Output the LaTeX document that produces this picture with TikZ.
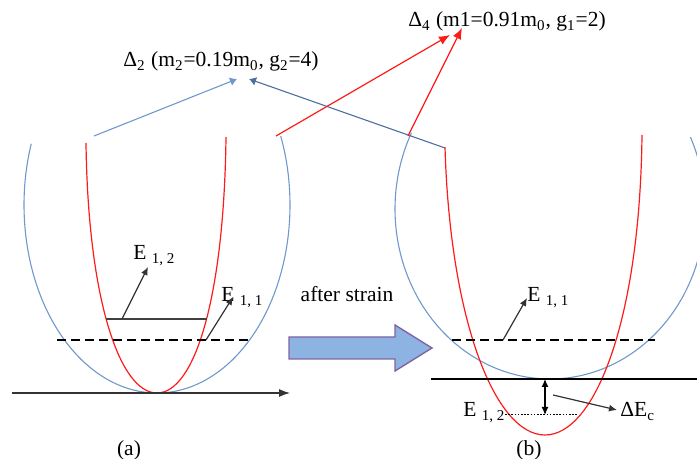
\documentclass[tikz,border=0pt]{standalone}
\usepackage{fontspec}
\setmainfont{Liberation Serif}
\usetikzlibrary{positioning, arrows.meta, calc}
\definecolor{myblue}{HTML}{6F98CC}
\definecolor{mydarkblue}{HTML}{4D6E9E}
\definecolor{myred}{HTML}{FF1A1A}
\definecolor{mypurple}{HTML}{8064A2}
\definecolor{myfill}{HTML}{8DB3E2}

\begin{document}
\begin{tikzpicture}[
    x=0.5pt, y=-0.5pt,
    font=\fontsize{10.75}{13}\selectfont,
    lbl/.style={inner sep=0pt, anchor=base west},
    title/.style={inner sep=0pt, anchor=base},
    band/.style={myblue, line width=0.55pt},
    heavy/.style={myred, line width=0.6pt},
    level/.style={black!75, line width=0.6pt},
    dashlevel/.style={black, line width=0.55pt, dash pattern=on 4.5pt off 2.5pt},
    dotlevel/.style={black, line width=0.5pt, dash pattern=on 0.8pt off 0.8pt},
    tick/.style={-{Latex[length=4pt, width=3.5pt]}, black!80, line width=0.6pt},
    dtick/.style={{Latex[length=4pt, width=3.5pt]}-{Latex[length=4pt, width=3.5pt]}, black, line width=0.6pt},
    axis/.style={-{Latex[length=5.5pt, width=4pt]}, black!80, line width=0.6pt},
    arrBlue/.style={-{Latex[length=3.5pt, width=4.5pt]}, myblue, line width=0.55pt},
    arrDark/.style={-{Latex[length=3.5pt, width=4.5pt]}, mydarkblue, line width=0.55pt},
    arrRed/.style={-{Latex[length=5.5pt, width=4.5pt]}, myred, line width=0.6pt}
  ]
  \useasboundingbox (0,0) rectangle (697,459);
  % Titulos de las bandas
  \node[title] (d2) at (221,67) {Δ\textsubscript{2} (m\textsubscript{2}=0.19m\textsubscript{0}, g\textsubscript{2}=4)};
  \node[title] (d4) at (507,27) {Δ\textsubscript{4} (m1=0.91m\textsubscript{0}, g\textsubscript{1}=2)};
  % (a) antes
  \draw[band] plot[domain=161:381.5, samples=90, smooth] ({157+133*cos(\x)},{205-188*sin(\x)});
  \draw[heavy] (86,143) .. controls (88,300) and (120,393) .. (157,393)
                        .. controls (194,393) and (224,300) .. (226,137);
  \draw[level] (106,319) -- (207,319);
  \draw[dashlevel] (57,340) -- (250,340);
  \draw[axis] (12,393) -- (290,393);
  \node[lbl] (e12a) at (133,260) {E \textsubscript{1, 2}};
  \node[lbl] (e11a) at (221,302) {E \textsubscript{1, 1}};
  \node (capa) at (129,450) {(a)};
  \coordinate (s12a) at (122,319);
  \coordinate (s11a) at (206,340);
  \draw[tick] (s12a) -- ([shift={(15,7)}]e12a.base west);
  \draw[tick] (s11a) -- ([shift={(12,-5)}]e11a.base west);
  % flecha grande
  \draw[fill=myfill, draw=mypurple, line width=0.7pt]
    (289,337) -- (395,337) -- (395,325) -- (432,348) -- (395,371) -- (395,359) -- (289,359) -- cycle;
  \node (strain) at (347,294) {after strain};
  % (b) despues
  \draw[band] plot[domain=153.4:385, samples=90, smooth] ({550+155*cos(\x)},{209-170*sin(\x)});
  \draw[heavy] (445,147) .. controls (450,320) and (495,435) .. (545,435)
                         .. controls (595,435) and (640,320) .. (642,135);
  \draw[dashlevel] (452,340) -- (655,340);
  \draw[level, black] (431,379) -- (697,379);
  \draw[dotlevel] (505,415) -- (577,415);
  \node[lbl] (e11b) at (527,302) {E \textsubscript{1, 1}};
  \node[lbl] (e12b) at (463,417) {E \textsubscript{1, 2}};
  \node[lbl] (dec) at (620,417) {ΔE\textsubscript{c}};
  \node (capb) at (529,450) {(b)};
  \coordinate (s11b) at (503,340);
  \coordinate (top) at (545,379);
  \coordinate (bot) at (545,415);
  \coordinate (sdec) at (553,395);
  \draw[tick] (s11b) -- ([shift={(0,-4)}]e11b.base west);
  \draw[dtick] (top) -- (bot);
  \draw[tick] (sdec) -- ([shift={(-3,-7)}]dec.base west);
  % conexiones a los titulos
  \coordinate (b1) at (94,136);
  \coordinate (b2) at (445,148);
  \coordinate (r1) at (276,136);
  \coordinate (r2) at (408,136);
  \draw[arrBlue] (b1) -- ([shift={(16,12)}]d2.base);
  \draw[arrDark] (b2) -- ([shift={(28,12)}]d2.base);
  \draw[arrRed] (r1) -- ([shift={(-57,8)}]d4.base);
  \draw[arrRed] (r2) -- ([shift={(-45,1)}]d4.base);
\end{tikzpicture}
\end{document}
